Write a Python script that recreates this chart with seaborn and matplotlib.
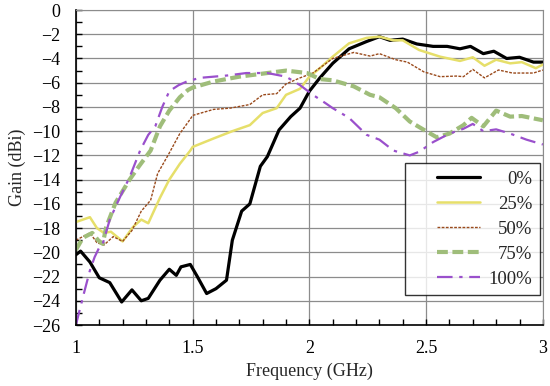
import numpy as np
import pandas as pd
import seaborn as sns
import matplotlib
matplotlib.use('Agg')
import matplotlib.pyplot as plt
from matplotlib.ticker import MultipleLocator, FuncFormatter
from matplotlib.lines import Line2D
from matplotlib.legend_handler import HandlerLine2D

# data (frequency in GHz, gain in dBi)
freq_0 = [1.00, 1.02, 1.06, 1.10, 1.145, 1.196, 1.24, 1.28, 1.31, 1.36, 1.40, 1.43, 1.45, 1.49, 1.52,
          1.56, 1.60, 1.645, 1.67, 1.71, 1.745, 1.79, 1.82, 1.87, 1.92, 1.96, 2.00, 2.045, 2.10, 2.17,
          2.245, 2.30, 2.345, 2.40, 2.46, 2.53, 2.59, 2.645, 2.69, 2.745, 2.79, 2.845, 2.90, 2.96, 3.00]
gain_0 = [-20.2, -19.9, -20.8, -22.1, -22.5, -24.1, -23.1, -24.0, -23.8, -22.3, -21.4, -21.9, -21.2, -21.0, -22.0,
          -23.4, -23.0, -22.3, -19.0, -16.6, -16.0, -12.9, -12.1, -9.9, -8.8, -8.1, -6.7, -5.6, -4.4, -3.2,
          -2.6, -2.2, -2.5, -2.4, -2.8, -3.0, -3.0, -3.2, -3.0, -3.6, -3.4, -4.0, -3.9, -4.3, -4.3]

freq_25 = [1.00, 1.06, 1.09, 1.12, 1.15, 1.20, 1.245, 1.28, 1.31, 1.36, 1.40, 1.445, 1.49, 1.50, 1.59,
           1.67, 1.745, 1.80, 1.86, 1.90, 1.96, 2.00, 2.045, 2.10, 2.17, 2.245, 2.30, 2.36, 2.40, 2.47,
           2.56, 2.645, 2.70, 2.75, 2.80, 2.86, 2.91, 2.97, 3.00]
gain_25 = [-17.5, -17.1, -18.0, -18.4, -18.3, -19.1, -17.9, -17.3, -17.6, -15.5, -14.0, -12.7, -11.6, -11.3, -10.6,
           -10.0, -9.5, -8.5, -8.1, -7.0, -6.5, -5.5, -4.8, -3.85, -2.75, -2.3, -2.2, -2.5, -2.5, -3.3,
           -3.85, -4.2, -3.9, -4.6, -4.1, -4.4, -4.3, -4.8, -4.5]

freq_50 = [1.00, 1.06, 1.09, 1.12, 1.16, 1.20, 1.24, 1.28, 1.32, 1.35, 1.40, 1.445, 1.49, 1.50, 1.59,
           1.66, 1.745, 1.80, 1.86, 1.90, 1.96, 2.015, 2.10, 2.19, 2.26, 2.30, 2.37, 2.42, 2.49, 2.56,
           2.63, 2.66, 2.70, 2.75, 2.81, 2.87, 2.96, 3.00]
gain_50 = [-19.0, -18.4, -19.2, -19.4, -18.7, -19.1, -18.2, -16.6, -15.7, -13.5, -11.8, -10.2, -9.0, -8.7, -8.2,
           -8.1, -7.8, -7.0, -6.9, -6.1, -5.6, -5.2, -4.0, -3.5, -3.8, -3.6, -4.1, -4.3, -5.1, -5.5,
           -5.45, -5.5, -4.9, -5.6, -4.95, -5.2, -5.2, -4.95]

freq_75 = [1.00, 1.03, 1.07, 1.095, 1.115, 1.13, 1.17, 1.23, 1.27, 1.32, 1.36, 1.40, 1.445, 1.48, 1.50,
           1.59, 1.70, 1.82, 1.90, 1.99, 2.045, 2.10, 2.19, 2.26, 2.30, 2.37, 2.43, 2.50, 2.545, 2.60,
           2.66, 2.695, 2.745, 2.80, 2.86, 2.91, 3.00]
gain_75 = [-19.8, -18.8, -18.4, -19.0, -19.3, -17.9, -15.9, -14.0, -12.9, -11.6, -9.6, -8.3, -7.2, -6.6, -6.4,
           -5.9, -5.5, -5.2, -5.0, -5.2, -5.7, -5.8, -6.3, -7.0, -7.2, -8.1, -9.2, -10.0, -10.5, -10.2,
           -9.5, -8.9, -9.6, -8.3, -8.8, -8.75, -9.1]

freq_100 = [1.00, 1.03, 1.06, 1.08, 1.10, 1.115, 1.145, 1.19, 1.23, 1.275, 1.31, 1.34, 1.37, 1.40, 1.44,
            1.475, 1.53, 1.59, 1.65, 1.73, 1.82, 1.90, 1.96, 2.015, 2.07, 2.10, 2.17, 2.245, 2.30, 2.36,
            2.43, 2.47, 2.53, 2.60, 2.66, 2.70, 2.745, 2.80, 2.86, 2.93, 3.00]
gain_100 = [-26.0, -23.7, -21.5, -20.4, -19.6, -19.3, -17.3, -15.4, -13.8, -11.6, -10.3, -9.6, -8.0, -6.7, -6.2,
            -5.9, -5.6, -5.5, -5.4, -5.2, -5.2, -5.5, -6.2, -7.0, -7.7, -8.1, -8.9, -10.3, -10.7, -11.6,
            -12.0, -11.7, -10.9, -10.2, -9.8, -9.4, -10.0, -9.85, -10.2, -10.7, -11.1]

labels = ['0%', '25%', '50%', '75%', '100%']


# legend handle drawn only on the right part of its box (leaves blank space on the left)
class RightLine(HandlerLine2D):
    def get_xdata(self, legend, xdescent, ydescent, width, height, fontsize):
        xd, xm = super().get_xdata(legend, xdescent, ydescent, width, height, fontsize)
        start = xd[0] + 0.36 * (xd[-1] - xd[0])
        return np.array([start, xd[-1]]), xm


sns.set_style('white')
plt.rcParams['font.family'] = ['Liberation Serif', 'DejaVu Serif']
plt.rcParams['font.size'] = 13

fig = plt.figure(figsize=(5.5, 3.86), dpi=100)
ax = fig.add_axes([0.138, 0.158, 0.849, 0.816])

# draw each series
series = [
    (freq_0, gain_0, '#000000', 2.3, '-'),
    (freq_25, gain_25, '#e6df6a', 1.8, '-'),
    (freq_50, gain_50, '#9a4a1c', 1.0, (0, (2, 1))),
    (freq_75, gain_75, '#9fbd7a', 3.0, (0, (2.6, 1.1))),
    (freq_100, gain_100, '#9a50cc', 1.6, (0, (7, 3, 1.5, 3))),
]
for (fx, gy, col, lw, ls), lab in zip(series, labels):
    df = pd.DataFrame({'freq': fx, 'gain': gy})
    sns.lineplot(data=df, x='freq', y='gain', ax=ax, color=col, linewidth=lw,
                 linestyle=ls, label=lab)

ax.set_xlim(1, 3)
ax.set_ylim(-26, 0)
ax.xaxis.set_major_locator(MultipleLocator(0.5))
ax.xaxis.set_minor_locator(MultipleLocator(0.1))
ax.yaxis.set_major_locator(MultipleLocator(2))
ax.yaxis.set_minor_locator(MultipleLocator(1))
ax.xaxis.set_major_formatter(FuncFormatter(lambda v, p: f'{v:g}'))
ax.tick_params(axis='both', which='both', direction='in', length=4, width=1, colors='black',
               labelsize=13, bottom=True, left=True)
ax.tick_params(axis='x', which='major', pad=11)
ax.tick_params(axis='y', which='major', pad=11.5)
ax.grid(axis='both', which='major', color='#8c8c8c', linewidth=0.9)
ax.set_axisbelow(True)
for s in ['top', 'right']:
    ax.spines[s].set_color('#8c8c8c')
for s in ['left', 'bottom']:
    ax.spines[s].set_color('black')
    ax.spines[s].set_linewidth(1.2)

ax.set_xlabel('Frequency (GHz)', fontsize=13, labelpad=4)
ax.set_ylabel('Gain (dBi)', fontsize=13, labelpad=4)

leg = ax.legend(loc='lower right', bbox_to_anchor=(0.994, 0.095), frameon=True, fancybox=False,
                edgecolor='black', handlelength=3.6, fontsize=13.5, borderpad=0.4, labelspacing=0.42,
                handletextpad=0.45, borderaxespad=0, handler_map={Line2D: RightLine()})
leg.get_frame().set_linewidth(1.0)

# right-align legend text
fig.canvas.draw()
renderer = fig.canvas.get_renderer()
widths = [t.get_window_extent(renderer).width for t in leg.get_texts()]
shift = max(widths)
for t, w in zip(leg.get_texts(), widths):
    t.set_position((shift - w, 0))

fig.savefig('out.png', dpi=100)
